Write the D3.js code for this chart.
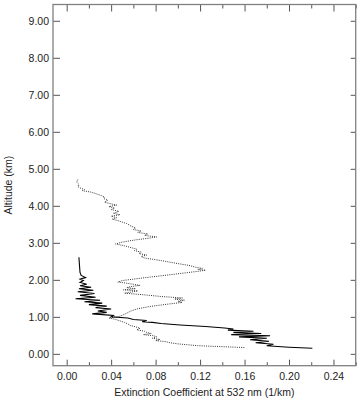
<html>
<head>
    <script src="https://d3js.org/d3.v7.min.js"></script>
    <style>
        body { margin: 0; background-color: white; }
        text { font-family: "Liberation Sans", Arial, Helvetica, sans-serif; }
    </style>
</head>
<body>
    <div id="chart"></div>
    <script>
        // profile 1 (dotted), altitude in km and extinction in 1/km
        var dottedAlt = [4.71, 4.64, 4.58, 4.52, 4.47, 4.44, 4.41, 4.37, 4.33, 4.28, 4.24, 4.20, 4.15, 4.10, 4.06,
            4.02, 3.98, 3.94, 3.90, 3.85, 3.80, 3.76, 3.72, 3.68, 3.64, 3.60, 3.52, 3.45, 3.40, 3.36, 3.32, 3.28,
            3.24, 3.20, 3.16, 3.13, 3.08, 3.02, 2.97, 2.92, 2.87, 2.83, 2.79, 2.75, 2.71, 2.67, 2.63, 2.59, 2.52,
            2.45, 2.39, 2.34, 2.31, 2.28, 2.26, 2.23, 2.20, 2.12, 2.05, 1.98, 1.94, 1.91, 1.88, 1.85, 1.82, 1.79,
            1.76, 1.73, 1.70, 1.67, 1.64, 1.60, 1.55, 1.51, 1.48, 1.45, 1.42, 1.39, 1.34, 1.28, 1.22, 1.16, 1.10,
            1.04, 1.00, 0.97, 0.93, 0.89, 0.85, 0.81, 0.77, 0.73, 0.69, 0.65, 0.61, 0.58, 0.55, 0.52, 0.49, 0.46,
            0.42, 0.39, 0.36, 0.33, 0.30, 0.27, 0.24, 0.22, 0.20, 0.17];
        var dottedExt = [0.010, 0.009, 0.011, 0.010, 0.013, 0.016, 0.014, 0.022, 0.026, 0.031, 0.034, 0.033, 0.037, 0.034, 0.039,
            0.045, 0.038, 0.043, 0.040, 0.047, 0.042, 0.048, 0.040, 0.045, 0.041, 0.046, 0.054, 0.058, 0.062, 0.060, 0.067, 0.064,
            0.073, 0.070, 0.081, 0.075, 0.062, 0.050, 0.044, 0.052, 0.058, 0.063, 0.061, 0.067, 0.065, 0.072, 0.067, 0.070, 0.085,
            0.098, 0.110, 0.116, 0.122, 0.118, 0.125, 0.118, 0.110, 0.088, 0.068, 0.050, 0.046, 0.054, 0.060, 0.066, 0.058, 0.054,
            0.062, 0.051, 0.064, 0.058, 0.052, 0.068, 0.085, 0.104, 0.097, 0.106, 0.100, 0.104, 0.090, 0.075, 0.064, 0.058, 0.054,
            0.050, 0.046, 0.038, 0.044, 0.048, 0.052, 0.055, 0.057, 0.062, 0.066, 0.063, 0.070, 0.072, 0.076, 0.069, 0.078, 0.081,
            0.077, 0.084, 0.080, 0.089, 0.093, 0.100, 0.111, 0.118, 0.135, 0.160];

        // profile 2 (solid)
        var solidAlt = [2.61, 2.40, 2.20, 2.12, 2.06, 2.02, 1.98, 1.93, 1.88, 1.84, 1.80, 1.76, 1.72, 1.68, 1.63,
            1.58, 1.53, 1.49, 1.45, 1.41, 1.37, 1.33, 1.29, 1.25, 1.21, 1.16, 1.12, 1.08, 1.04, 1.00, 0.97, 0.93,
            0.90, 0.87, 0.85, 0.82, 0.78, 0.74, 0.70, 0.67, 0.64, 0.61, 0.58, 0.55, 0.52, 0.49, 0.46, 0.42, 0.38,
            0.34, 0.30, 0.26, 0.22, 0.18, 0.15];
        var solidExt = [0.011, 0.0115, 0.012, 0.013, 0.017, 0.012, 0.015, 0.012, 0.018, 0.012, 0.022, 0.011, 0.024, 0.010, 0.025,
            0.012, 0.026, 0.008, 0.030, 0.016, 0.032, 0.020, 0.036, 0.026, 0.040, 0.028, 0.036, 0.023, 0.042, 0.040, 0.055, 0.060,
            0.072, 0.068, 0.077, 0.085, 0.102, 0.125, 0.142, 0.150, 0.145, 0.168, 0.150, 0.175, 0.148, 0.183, 0.155, 0.180, 0.165,
            0.182, 0.170, 0.186, 0.180, 0.200, 0.221];

        var xMajor = [0, 0.04, 0.08, 0.12, 0.16, 0.20, 0.24];
        var xMinor = [0.02, 0.06, 0.10, 0.14, 0.18, 0.22, 0.26];
        var yMajor = [0, 1, 2, 3, 4, 5, 6, 7, 8, 9];

        var width = 361, height = 405;
        var frame = { left: 53, right: 355.7, top: 4.5, bottom: 365.7 };

        var x = d3.scaleLinear().domain([-0.0123, 0.26]).range([frame.left, frame.right]);
        var y = d3.scaleLinear().domain([-0.32, 9.44]).range([frame.bottom, frame.top]);

        var svg = d3.select("#chart").append("svg")
            .attr("width", width)
            .attr("height", height);

        function styleAxis(g) {
            g.select(".domain").remove();
            g.selectAll("line").attr("stroke", "#555").attr("stroke-width", 1);
            g.selectAll("text")
                .attr("fill", "#222")
                .style("font-size", "10.5px");
        }

        // bottom axis with labels
        svg.append("g")
            .attr("transform", "translate(0," + frame.bottom + ")")
            .call(d3.axisBottom(x).tickValues(xMajor).tickSizeInner(-6).tickSizeOuter(0)
                .tickPadding(7).tickFormat(d3.format(".2f")))
            .call(styleAxis);
        svg.append("g")
            .attr("transform", "translate(0," + frame.bottom + ")")
            .call(d3.axisBottom(x).tickValues(xMinor).tickSizeInner(-3.5).tickSizeOuter(0).tickFormat(""))
            .call(styleAxis);

        // top axis, ticks only
        svg.append("g")
            .attr("transform", "translate(0," + frame.top + ")")
            .call(d3.axisTop(x).tickValues(xMajor).tickSizeInner(-7).tickSizeOuter(0).tickFormat(""))
            .call(styleAxis);
        svg.append("g")
            .attr("transform", "translate(0," + frame.top + ")")
            .call(d3.axisTop(x).tickValues(xMinor).tickSizeInner(-4).tickSizeOuter(0).tickFormat(""))
            .call(styleAxis);

        // left axis with labels
        svg.append("g")
            .attr("transform", "translate(" + frame.left + ",0)")
            .call(d3.axisLeft(y).tickValues(yMajor).tickSizeInner(-7).tickSizeOuter(0)
                .tickPadding(4).tickFormat(d3.format(".2f")))
            .call(styleAxis);

        // right axis, ticks only
        svg.append("g")
            .attr("transform", "translate(" + frame.right + ",0)")
            .call(d3.axisRight(y).tickValues(yMajor).tickSizeInner(-5).tickSizeOuter(0).tickFormat(""))
            .call(styleAxis);

        // frame
        svg.append("rect")
            .attr("x", frame.left)
            .attr("y", frame.top)
            .attr("width", frame.right - frame.left)
            .attr("height", frame.bottom - frame.top)
            .attr("fill", "none")
            .attr("stroke", "#808080")
            .attr("stroke-width", 1.3);

        var line = d3.line()
            .x(function (d) { return x(d[1]); })
            .y(function (d) { return y(d[0]); });

        var dotted = d3.zip(dottedAlt, dottedExt);
        var solid = d3.zip(solidAlt, solidExt);

        svg.append("path")
            .datum(dotted)
            .attr("d", line)
            .attr("fill", "none")
            .attr("stroke", "#333")
            .attr("stroke-width", 1)
            .attr("stroke-dasharray", "1,1.2");

        svg.append("path")
            .datum(solid)
            .attr("d", line)
            .attr("fill", "none")
            .attr("stroke", "#000")
            .attr("stroke-width", 1.1);

        // axis titles
        svg.append("text")
            .attr("x", (frame.left + frame.right) / 2)
            .attr("y", 396)
            .attr("text-anchor", "middle")
            .attr("fill", "#222")
            .style("font-size", "10.5px")
            .text("Extinction Coefficient at 532 nm (1/km)");

        svg.append("text")
            .attr("transform", "translate(12," + ((frame.top + frame.bottom) / 2) + ") rotate(-90)")
            .attr("text-anchor", "middle")
            .attr("fill", "#222")
            .style("font-size", "10.5px")
            .text("Altitude (km)");
    </script>
</body>
</html>
